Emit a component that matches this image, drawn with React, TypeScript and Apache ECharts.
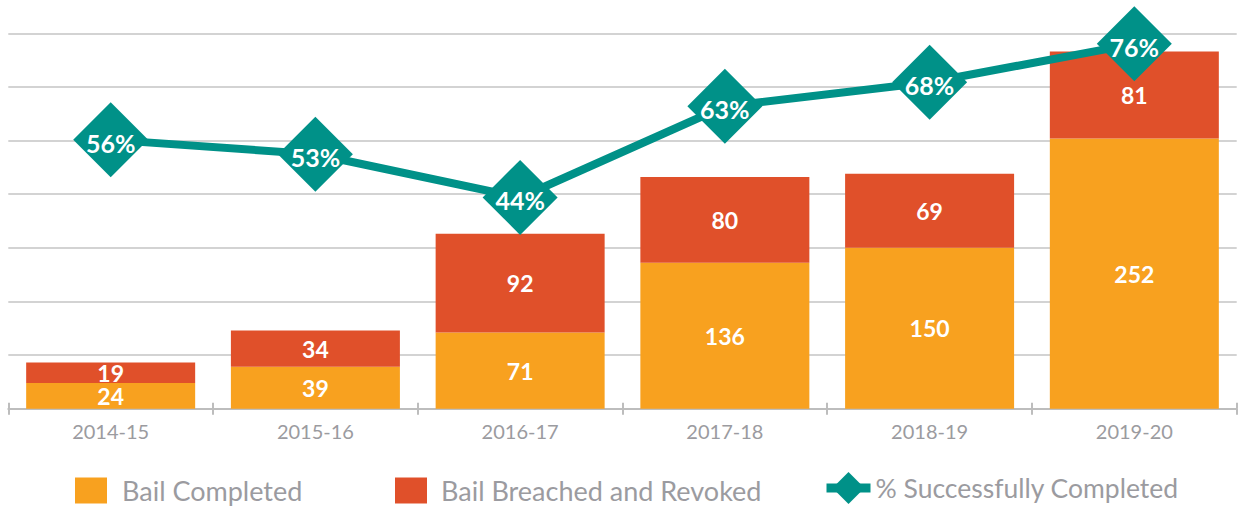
import React, { useEffect, useRef } from "react";
import * as echarts from "echarts";

const categories = ["2014-15", "2015-16", "2016-17", "2017-18", "2018-19", "2019-20"];
const completed = [24, 39, 71, 136, 150, 252];
const breached = [19, 34, 92, 80, 69, 81];
const successPct = [56, 53, 44, 63, 68, 76];

const ORANGE = "#F8A11F";
const RED = "#E0502A";
const TEAL = "#009188";
const GRAY_TEXT = "#9b9ba0";
const FONT = "Lato";

export default function App() {
  const ref = useRef<HTMLDivElement>(null);
  useEffect(() => {
    if (!ref.current) return;
    const chart = echarts.init(ref.current, undefined, { renderer: "svg" });
    const legendBase = {
      orient: "horizontal",
      padding: 0,
      selectedMode: false,
      textStyle: { fontFamily: FONT, fontSize: 27, color: GRAY_TEXT },
    };
    const barLabel = {
      show: true,
      position: "inside",
      color: "#fff",
      fontSize: 23,
      fontWeight: "bold",
      fontFamily: FONT,
    };
    chart.setOption({
      animation: false,
      textStyle: { fontFamily: FONT },
      grid: { left: 8.3, right: 1.3, top: 33.3, height: 375.4 },
      legend: [
        {
          ...legendBase,
          left: 75,
          top: 477,
          itemWidth: 32,
          itemHeight: 26,
          icon: "rect",
          data: ["Bail Completed"],
          textStyle: { ...legendBase.textStyle, padding: [0, 0, 0, 10] },
        },
        {
          ...legendBase,
          left: 395,
          top: 477,
          itemWidth: 32,
          itemHeight: 26,
          icon: "rect",
          data: ["Bail Breached and Revoked"],
          textStyle: { ...legendBase.textStyle, padding: [0, 0, 0, 9] },
        },
        {
          ...legendBase,
          left: 822,
          top: 472,
          itemWidth: 44,
          itemHeight: 40,
          lineStyle: { width: 9 },
          data: ["% Successfully Completed"],
          textStyle: { ...legendBase.textStyle, fontSize: 26.5, padding: [0, 0, 0, 0] },
        },
      ],
      xAxis: [
        {
          type: "category",
          data: categories,
          position: "bottom",
          offset: 2,
          axisLine: { lineStyle: { color: "#bdbdbd", width: 2 } },
          axisTick: { show: true, length: 6, lineStyle: { color: "#bdbdbd", width: 2 } },
          axisLabel: { color: GRAY_TEXT, fontSize: 20, fontFamily: FONT, margin: 10 },
        },
        {
          type: "category",
          data: categories,
          position: "bottom",
          offset: 2,
          axisLine: { show: false },
          axisTick: { show: true, inside: true, length: 6, lineStyle: { color: "#bdbdbd", width: 2 } },
          axisLabel: { show: false },
        },
      ],
      yAxis: [
        {
          type: "value",
          min: 0,
          max: 350,
          interval: 50,
          axisLabel: { show: false },
          axisLine: { show: false },
          axisTick: { show: false },
          splitLine: { lineStyle: { color: "#c4c4c4", width: 1.5 } },
        },
        {
          type: "value",
          min: 0,
          max: 78.2,
          show: false,
          splitLine: { show: false },
        },
      ],
      series: [
        {
          name: "Bail Completed",
          type: "bar",
          stack: "total",
          data: completed,
          barWidth: 169,
          itemStyle: { color: ORANGE },
          label: barLabel,
        },
        {
          name: "Bail Breached and Revoked",
          type: "bar",
          stack: "total",
          data: breached,
          barWidth: 169,
          itemStyle: { color: RED },
          label: barLabel,
        },
        {
          name: "% Successfully Completed",
          type: "line",
          yAxisIndex: 1,
          data: successPct,
          symbol: "diamond",
          symbolSize: 75,
          z: 5,
          lineStyle: { color: TEAL, width: 8 },
          itemStyle: { color: TEAL },
          label: {
            show: true,
            position: "inside",
            formatter: "{c}%",
            color: "#fff",
            fontSize: 25,
            fontWeight: "bold",
            fontFamily: FONT,
            offset: [0, 3],
          },
        },
      ],
    });
    return () => chart.dispose();
  }, []);
  return (
    <div
      ref={ref}
      style={{ position: "fixed", left: 0, top: 0, width: 1238, height: 506, background: "#fff" }}
    />
  );
}
